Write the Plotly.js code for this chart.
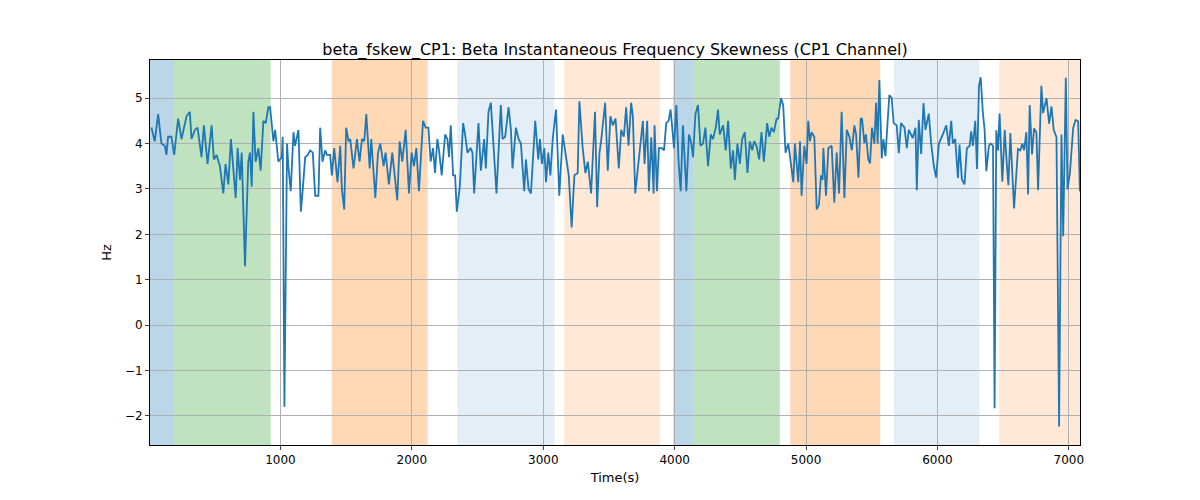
<!DOCTYPE html>
<html>
<head>
<meta charset="utf-8">
<script src="https://cdn.plot.ly/plotly-3.0.1.min.js"></script>
<style>body{margin:0;background:#fff}#chart{width:1200px;height:500px}</style>
</head>
<body>
<div id="chart"></div>
<script>
// time (s) and skewness (Hz)
var timeSec = [18,43,69,94,120,132,145,170,191,221,247,285,310,323,348,369,399,417,445,476,493,514,539,565,582,603,623,641,659,674,692,705,730,755,768,781,794,811,832,849,870,888,908,921,946,959,984,1010,1017,1030,1050,1060,1078,1099,1111,1137,1155,1170,1188,1208,1226,1246,1264,1289,1302,1320,1340,1353,1378,1391,1409,1434,1455,1467,1485,1500,1518,1531,1556,1582,1602,1620,1638,1653,1679,1691,1722,1742,1760,1785,
  1800,1825,1851,1889,1907,1927,1953,1978,1998,2016,2034,2054,2085,2105,2126,2143,2161,2176,2194,2207,2227,2253,2270,2283,2296,2314,2329,2342,2365,2390,2405,2423,2448,2461,2474,2507,2525,2550,2563,2583,2601,2614,2644,2677,2690,2710,2736,2754,2766,2792,2812,2830,2855,2868,2888,2906,2919,2939,2962,2975,2990,3008,3021,3038,3054,3072,3097,3122,3148,3173,3194,3216,3237,3262,3275,3300,3321,3339,3364,3394,3410,3428,3440,3471,3491,3511,3529,3550,3575,
  3593,3613,3631,3649,3669,3682,3700,3725,3758,3771,3791,3804,3822,3840,3847,3865,3880,3903,3919,3936,3954,3969,3995,4013,4030,4046,4063,4089,4109,4127,4140,4158,4178,4196,4216,4234,4254,4275,4292,4313,4330,4343,4356,4369,4389,4407,4427,4445,4458,4478,4496,4514,4534,4554,4572,4590,4605,4623,4643,4661,4679,4704,4720,4737,4755,4776,4788,4809,4826,4844,4865,4890,4903,4915,4941,4954,4966,4987,5004,5017,5030,5043,5063,5081,5098,5114,5126,5132,5152,5170,5195,5215,5233,5251,5271,5292,5310,5330,5348,5368,5381,5399,5416,
  5426,5444,5456,5474,5487,5502,5520,5533,5545,5558,5576,5589,5604,5634,5652,5667,5690,5706,5723,5749,5767,5782,5812,5833,5843,5858,5876,5894,5909,5934,5952,5973,5990,6011,6041,6067,6087,6105,6117,6135,6156,6168,6186,6206,6224,6245,6257,6270,6288,6301,6316,6329,6346,6359,6372,6392,6405,6423,6435,6448,6461,6473,6494,6512,6529,6540,6555,6575,6583,6613,6631,6646,6659,6677,6690,6702,6720,6735,6753,6766,6791,6804,6830,6850,6868,6885,6906,6926,6944,6957,6977,6990,7008,7033,7051,7071,7084];
var fskew = [4.35,4.05,4.65,4.0,3.95,3.75,4.15,4.15,3.75,4.55,4.1,4.6,4.7,4.1,4.3,4.35,3.7,4.4,3.55,4.4,3.65,3.75,3.5,2.9,3.55,3.1,4.1,3.4,2.8,3.9,3.2,3.8,1.3,3.6,3.8,3.05,4.7,3.6,3.9,3.4,4.5,4.45,4.8,4.8,4.05,4.3,3.6,3.7,4.15,-1.8,4.0,3.5,2.95,4.25,3.95,4.3,2.5,3.0,3.7,3.75,3.85,3.8,2.85,2.85,4.35,3.6,3.85,3.75,3.75,3.3,3.9,3.15,3.95,3.0,2.55,4.35,4.05,4.1,3.45,4.1,3.6,4.1,4.05,4.65,3.45,4.1,2.8,3.8,4.0,3.5,
  3.8,3.1,3.8,2.75,4.05,3.6,4.3,2.9,3.8,3.5,3.9,2.95,4.5,4.35,4.35,3.6,3.9,3.35,4.1,3.85,3.3,4.2,4.1,3.7,4.4,3.3,3.3,2.5,3.05,4.45,4.2,3.8,3.9,3.8,2.9,4.45,3.4,4.1,3.45,4.7,4.9,4.3,2.9,4.85,4.1,4.15,4.8,4.3,3.45,4.35,4.1,4.0,2.95,3.65,3.0,2.9,3.5,4.5,3.65,4.1,3.55,3.9,3.15,3.8,3.3,4.1,4.75,2.85,4.2,3.76,3.3,2.15,3.3,3.35,4.93,3.9,3.35,3.6,2.9,4.7,2.6,3.8,4.05,4.9,3.4,4.6,4.4,4.55,3.45,
  4.3,4.15,4.8,3.95,4.9,4.6,2.9,3.55,4.5,3.55,4.5,2.95,4.14,2.9,4.4,2.95,3.9,3.9,3.85,4.45,4.5,4.75,3.9,4.85,3.6,2.95,4.4,2.95,4.2,4.0,3.7,4.65,4.85,3.95,4.0,4.35,3.5,4.2,4.1,4.35,4.75,4.2,4.3,4.4,3.85,4.5,3.45,3.85,3.2,4.0,3.55,4.1,4.25,3.35,4.05,3.85,4.05,3.95,3.65,4.25,3.6,4.45,4.15,4.35,4.25,4.55,4.55,5.0,4.85,3.8,4.0,3.5,3.15,4.0,3.15,4.05,2.85,3.95,3.55,4.5,4.05,4.25,4.15,2.55,2.65,3.3,3.2,3.9,2.85,3.9,3.95,2.7,3.8,2.9,4.7,2.8,4.3,4.15,3.85,4.4,4.2,3.25,4.55,
  4.55,4.01,4.2,3.65,3.56,4.35,4.0,4.9,4.0,5.4,3.67,4.1,3.72,5.07,5.0,4.45,4.4,3.79,4.45,4.35,3.9,4.3,4.12,4.35,2.97,4.52,3.77,4.89,4.3,4.66,4.01,3.5,3.25,4.0,4.2,4.4,3.95,4.5,4.0,4.1,3.24,3.98,3.21,3.1,3.9,3.95,4.27,3.95,4.5,3.44,5.26,5.46,4.67,4.3,3.39,3.95,4.0,3.95,-1.83,4.29,3.85,4.66,3.16,4.3,3.5,3.08,4.23,2.92,2.57,3.88,3.85,4.0,3.85,4.25,2.88,4.85,3.76,4.33,4.25,2.97,5.27,4.67,5.0,4.44,4.82,4.3,4.14,-2.23,4.2,1.96,5.45,2.99,3.35,4.34,4.52,4.49,2.95];

// shaded intervals (s)
var bandStart = [0, 190, 1390, 2345, 3160, 3990, 4145, 4880, 5670, 6470];
var bandEnd   = [190, 925, 2120, 3085, 3890, 4145, 4800, 5565, 6320, 7085];
var bandColor = ['rgba(31,119,180,0.3)','rgba(44,160,44,0.3)','rgba(255,127,14,0.3)','rgba(31,119,180,0.12)','rgba(255,127,14,0.17)',
                 'rgba(31,119,180,0.3)','rgba(44,160,44,0.3)','rgba(255,127,14,0.3)','rgba(31,119,180,0.12)','rgba(255,127,14,0.17)'];

var shapes = bandStart.map(function(s, i) {
  return {type:'rect', xref:'x', yref:'paper', x0:s, x1:bandEnd[i], y0:0, y1:1,
          fillcolor:bandColor[i], line:{width:0}, layer:'below'};
});

var trace = {x: timeSec, y: fskew, type:'scatter', mode:'lines',
             line:{color:'#1f77b4', width:1.8}, hoverinfo:'none'};

var layout = {
  width:1200, height:500,
  margin:{l:150, r:120, t:60, b:55},
  paper_bgcolor:'#fff', plot_bgcolor:'rgba(0,0,0,0)',
  font:{family:'DejaVu Sans', size:12, color:'#000'},
  title:{text:'beta_fskew_CP1: Beta Instantaneous Frequency Skewness (CP1 Channel)', font:{size:16},
         x:0.5, xref:'paper', y:0.89, yref:'container', yanchor:'bottom'},
  showlegend:false,
  shapes: shapes,
  xaxis:{range:[7, 7085], tickvals:[1000,2000,3000,4000,5000,6000,7000],
         showgrid:true, gridcolor:'#b0b0b0', zeroline:false,
         showline:true, linecolor:'#000', mirror:true, ticks:'outside', ticklen:4,
         title:{text:'Time(s)', standoff:6, font:{size:13}}},
  yaxis:{range:[-2.64, 5.84], tickvals:[-2,-1,0,1,2,3,4,5],
         ticktext:['\u22122','\u22121','0','1','2','3','4','5'],
         showgrid:true, gridcolor:'#b0b0b0', zeroline:false,
         showline:true, linecolor:'#000', mirror:true, ticks:'outside', ticklen:4,
         title:{text:'Hz', standoff:10, font:{size:13}}}
};

Plotly.newPlot('chart', [trace], layout, {staticPlot:true, displayModeBar:false});
</script>
</body>
</html>
